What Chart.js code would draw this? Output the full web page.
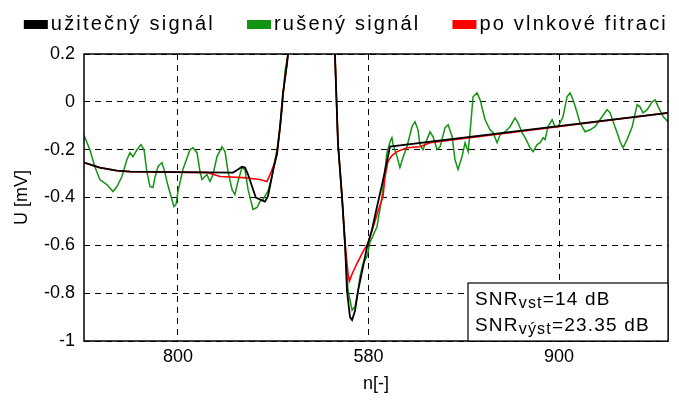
<!DOCTYPE html>
<html>
<head>
<meta charset="utf-8">
<script src="https://cdn.jsdelivr.net/npm/chart.js@4/dist/chart.umd.min.js"></script>
<style>
  body { margin: 0; background: #fff; }
  #wrap { width: 679px; height: 403px; }
</style>
</head>
<body>
<div id="wrap"><canvas id="chart" width="679" height="403"></canvas></div>
<script>
// data: [n, U]
const usefulPts = [
  [430.7, -0.254], [439, -0.275], [448, -0.288], [455, -0.292], [508.9, -0.296],
  [511.5, -0.283], [513.6, -0.271], [515.2, -0.275], [516.8, -0.304], [518.9, -0.354],
  [520.9, -0.4], [523.0, -0.408], [525.7, -0.417], [527.2, -0.396], [528.3, -0.354],
  [529.9, -0.2875], [532.0, -0.217], [533.6, -0.104], [535.1, 0.033], [537.2, 0.158],
  [549, 1.0], [562.4, 0.2], [564.0, -0.175], [566.1, -0.396], [567.7, -0.592],
  [568.7, -0.7875], [570.3, -0.9], [571.4, -0.9125], [572.9, -0.875], [574.6, -0.7875],
  [577.2, -0.6875], [579.3, -0.604], [581.9, -0.533], [584.5, -0.4375], [587.1, -0.346],
  [589.7, -0.25], [591.3, -0.1875], [737.2, -0.046]
];

const noisyPts = [
  [430.7, -0.14], [433.8, -0.2], [436.4, -0.271], [439.0, -0.325], [442.7, -0.346],
  [445.9, -0.375], [448.0, -0.354], [450.6, -0.3125], [453.2, -0.242], [454.8, -0.2125],
  [456.4, -0.229], [458.5, -0.2], [460.6, -0.179], [462.2, -0.2], [463.7, -0.292],
  [465.3, -0.354], [466.9, -0.358], [467.9, -0.317], [469.5, -0.271], [471.6, -0.254],
  [473.2, -0.296], [474.2, -0.333], [475.8, -0.379], [477.9, -0.4375], [479.0, -0.429],
  [480.0, -0.375], [482.6, -0.283], [486.3, -0.2], [487.9, -0.192], [490.0, -0.2125],
  [491.6, -0.292], [492.6, -0.325], [495.2, -0.304], [496.8, -0.333], [498.4, -0.304],
  [500.5, -0.229], [503.1, -0.1875], [504.7, -0.208], [506.3, -0.292], [508.4, -0.367],
  [509.9, -0.3875], [511.5, -0.333], [513.6, -0.275], [515.2, -0.283], [516.8, -0.367],
  [519.4, -0.45], [521.5, -0.442], [523.0, -0.417], [524.6, -0.408], [527.2, -0.375],
  [529.4, -0.3125], [530.9, -0.246], [532.5, -0.175], [534.6, -0.0375], [536.2, 0.129],
  [537.8, 0.2], [549.0, 1.0], [562.4, 0.2], [564.0, -0.175], [566.1, -0.396],
  [567.7, -0.6125], [569.3, -0.79], [571.4, -0.871], [573.0, -0.854], [574.6, -0.7875],
  [575.6, -0.729], [577.2, -0.675], [579.3, -0.646], [580.8, -0.5875], [584.5, -0.521],
  [587.1, -0.396], [589.7, -0.2125], [591.3, -0.167], [592.3, -0.15], [592.9, -0.179],
  [595.0, -0.229], [596.5, -0.275], [598.1, -0.233], [600.2, -0.1875], [602.8, -0.104],
  [604.4, -0.083], [606.0, -0.117], [607.0, -0.179], [608.6, -0.2], [610.7, -0.158],
  [612.3, -0.125], [613.9, -0.146], [616.0, -0.2], [617.6, -0.1875], [620.2, -0.108],
  [621.8, -0.096], [623.9, -0.146], [625.4, -0.242], [627.0, -0.283], [629.1, -0.229],
  [630.7, -0.171], [632.3, -0.208], [633.3, -0.129], [634.9, 0.021], [637.0, 0.0375],
  [638.6, 0.008], [641.2, -0.075], [643.8, -0.117], [645.4, -0.129], [647.5, -0.171],
  [649.1, -0.1375], [651.7, -0.125], [654.3, -0.104], [656.9, -0.067], [658.5, -0.0875],
  [660.6, -0.129], [662.2, -0.15], [664.8, -0.192], [666.4, -0.208], [668.5, -0.179],
  [670.1, -0.171], [671.7, -0.15], [672.7, -0.158], [674.2, -0.104], [676.4, -0.075],
  [677.9, -0.104], [679.5, -0.104], [682.1, -0.0625], [684.2, 0.021], [685.8, 0.0375],
  [687.4, 0.008], [689.5, -0.046], [691.0, -0.0875], [693.7, -0.125], [696.3, -0.117],
  [698.9, -0.104], [702.6, -0.0625], [705.2, -0.033], [706.8, -0.046], [708.4, -0.083],
  [710.5, -0.129], [712.1, -0.167], [713.6, -0.192], [715.7, -0.158], [718.4, -0.104],
  [721.0, -0.0125], [722.5, -0.021], [724.1, -0.046], [726.3, -0.033], [728.9, 0.0],
  [730.5, 0.008], [732.1, -0.021], [734.7, -0.0625], [737.2, -0.083]
];

const filteredPts = [
  [430.7, -0.254], [439, -0.275], [448, -0.288], [455, -0.292], [495.8, -0.296],
  [502.1, -0.3125], [514.1, -0.317], [523.0, -0.325], [526.7, -0.333], [528.8, -0.296],
  [530.4, -0.2625], [532.0, -0.217], [533.6, -0.104], [535.1, 0.033], [537.2, 0.158],
  [549, 1.0], [562.4, 0.2], [564.0, -0.175], [566.1, -0.396], [567.7, -0.592],
  [569.3, -0.72], [570.0, -0.75], [571.4, -0.72], [574.0, -0.675], [577.2, -0.625],
  [579.7, -0.592], [582.4, -0.525], [585.0, -0.458], [587.6, -0.396], [588.7, -0.3125],
  [590.2, -0.25], [592.3, -0.225], [595.0, -0.208], [600.2, -0.192], [607.0, -0.1875],
  [612.3, -0.171], [737.2, -0.046]
];

const xMin = 430.7, xMax = 737.2;
const xTickValues = [480, 580, 680];
const xTickLabels = ['800', '580', '900'];
const yTickValues = [-1, -0.8, -0.6, -0.4, -0.2, 0, 0.2];
const yTickLabels = ['-1', '-0.8', '-0.6', '-0.4', '-0.2', '0', '0.2'];

const FONT = "'Liberation Sans', Arial, sans-serif";

function toXY(pts) {
  return pts.map(p => ({ x: p[0], y: p[1] }));
}

// legenda nahoře, zarovnaná k pravému okraji grafu
const legendPlugin = {
  id: 'topLegend',
  afterDraw(chart) {
    const ctx = chart.ctx;
    const items = chart.data.datasets.slice().sort((a, b) => a.legendPos - b.legendPos);
    ctx.save();
    ctx.font = '20px ' + FONT;
    ctx.letterSpacing = '2.2px';
    ctx.textBaseline = 'middle';
    const sw = 24, gap = 3, space = 32, y = 24;
    let total = 0;
    items.forEach((d, i) => {
      total += sw + gap + ctx.measureText(d.label).width + (i < items.length - 1 ? space : 0);
    });
    let x = chart.chartArea.right - total;
    items.forEach(d => {
      ctx.fillStyle = d.borderColor;
      ctx.fillRect(x, y - 4, sw, 9);
      x += sw + gap;
      ctx.fillStyle = '#000';
      ctx.fillText(d.label, x, y);
      x += ctx.measureText(d.label).width + space;
    });
    ctx.restore();
  }
};

// rámeček grafu a textové pole SNR
const framePlugin = {
  id: 'frame',
  afterDatasetsDraw(chart) {
    const ctx = chart.ctx;
    const a = chart.chartArea;
    ctx.save();
    ctx.strokeStyle = '#000';
    ctx.lineWidth = 1.5;
    ctx.strokeRect(a.left, a.top, a.right - a.left, a.bottom - a.top);

    const bw = 200, bh = 58;
    const bx = a.right - bw, by = a.bottom - bh;
    ctx.fillStyle = '#fff';
    ctx.fillRect(bx, by, bw, bh);
    ctx.lineWidth = 1.2;
    ctx.strokeRect(bx, by, bw, bh);

    const lines = [['SNR', 'vst', '=14 dB'], ['SNR', 'výst', '=23.35 dB']];
    ctx.fillStyle = '#000';
    ctx.textBaseline = 'alphabetic';
    ctx.letterSpacing = '1.2px';
    lines.forEach((ln, i) => {
      let x = bx + 7;
      const y = by + 22 + i * 26;
      ctx.font = '19px ' + FONT;
      ctx.fillText(ln[0], x, y);
      x += ctx.measureText(ln[0]).width;
      ctx.font = '16px ' + FONT;
      ctx.fillText(ln[1], x, y + 3);
      x += ctx.measureText(ln[1]).width;
      ctx.font = '19px ' + FONT;
      ctx.fillText(ln[2], x, y);
    });
    ctx.restore();
  }
};

const ctx = document.getElementById('chart').getContext('2d');
new Chart(ctx, {
  type: 'line',
  data: {
    datasets: [
      {
        label: 'rušený signál',
        legendPos: 1,
        data: toXY(noisyPts),
        borderColor: '#129412',
        borderWidth: 1.5,
        pointRadius: 0,
        tension: 0,
        order: 3,
        clip: 0
      },
      {
        label: 'po vlnkové fitraci',
        legendPos: 2,
        data: toXY(filteredPts),
        borderColor: '#ff0000',
        borderWidth: 1.6,
        pointRadius: 0,
        tension: 0,
        order: 2,
        clip: 0
      },
      {
        label: 'užitečný signál',
        legendPos: 0,
        data: toXY(usefulPts),
        borderColor: '#000000',
        borderWidth: 1.8,
        pointRadius: 0,
        tension: 0,
        order: 1,
        clip: 0
      }
    ]
  },
  options: {
    responsive: false,
    animation: false,
    events: [],
    layout: { padding: { top: 54, right: 11, left: 0, bottom: 0 } },
    plugins: {
      legend: { display: false },
      tooltip: { enabled: false }
    },
    scales: {
      x: {
        type: 'linear',
        min: xMin,
        max: xMax,
        afterBuildTicks: s => { s.ticks = xTickValues.map(v => ({ value: v })); },
        afterFit: s => { s.height = 62; },
        ticks: {
          color: '#000',
          font: { family: FONT, size: 18 },
          padding: 5,
          maxRotation: 0,
          callback: (v, i) => xTickLabels[i]
        },
        grid: { color: '#000', lineWidth: 1, drawTicks: false },
        border: { display: false, dash: [6, 5] },
        title: {
          display: true,
          text: 'n[-]',
          color: '#000',
          font: { family: FONT, size: 18 },
          padding: { top: 0, bottom: 8 }
        }
      },
      y: {
        min: -1,
        max: 0.2,
        afterBuildTicks: s => { s.ticks = yTickValues.map(v => ({ value: v })); },
        afterFit: s => { s.width = 84; },
        ticks: {
          color: '#000',
          font: { family: FONT, size: 18 },
          padding: 9,
          callback: (v, i) => yTickLabels[i]
        },
        grid: { color: '#000', lineWidth: 1, drawTicks: false },
        border: { display: false, dash: [6, 5] },
        title: {
          display: true,
          text: 'U [mV]',
          color: '#000',
          font: { family: FONT, size: 18 },
          padding: { top: 11, bottom: 0 }
        }
      }
    }
  },
  plugins: [legendPlugin, framePlugin]
});
</script>
</body>
</html>
